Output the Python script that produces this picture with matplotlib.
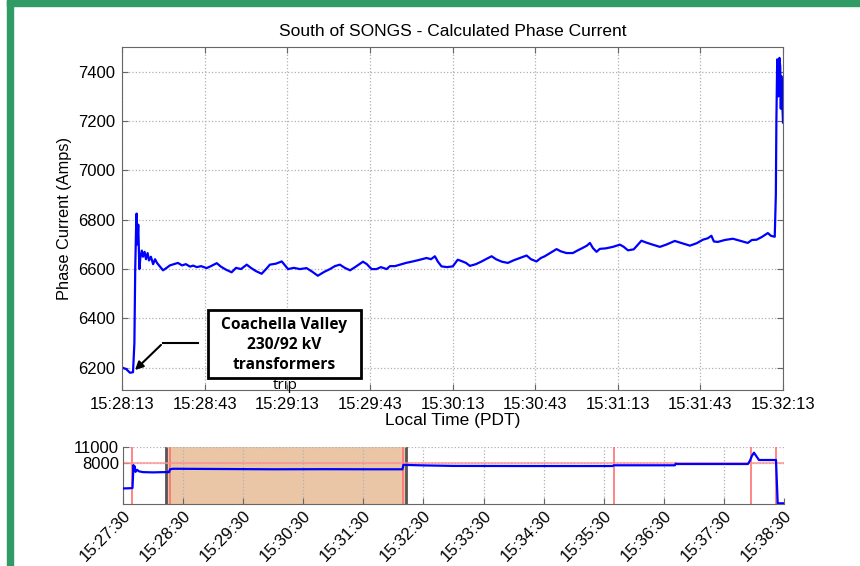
import matplotlib
matplotlib.use("Agg")
import matplotlib.pyplot as plt
import matplotlib.dates as mdates
from matplotlib.patches import Rectangle
from datetime import datetime, timedelta

plt.rcParams['font.family'] = ['Liberation Sans', 'DejaVu Sans']

# ---- main trace: seconds after 15:28:13, phase current (A)
main_start = datetime(2011, 9, 8, 15, 28, 13)
main_sec = [0.25, 1.5, 2.9, 4.0, 4.5, 4.8, 5.1, 5.3, 5.6, 5.9, 6.3, 6.7, 7.2, 7.6,
            8.2, 8.7, 9.3, 9.8, 10.5, 11.3, 12.0, 12.7, 13.8, 14.9, 16.2, 17.4,
            18.9, 20.3, 21.8, 23.2, 24.7, 25.8, 27.2, 28.7, 30.7, 32.3, 34.4,
            35.9, 37.7, 39.8, 41.4, 43.2, 45.3, 46.8, 48.6, 50.7, 52.3, 53.7,
            55.9, 58.0, 59.2, 60.3, 62.4, 64.6, 67.0, 69.0, 71.1, 73.3, 75.5,
            77.3, 79.1, 80.9, 82.8, 84.9, 87.5, 88.9, 90.6, 92.4, 94.0, 96.1,
            97.3, 99.1, 100.9, 103.1, 105.6, 108.2, 110.6, 112.2, 113.6, 114.7,
            116.0, 118.0, 120.1, 121.9, 123.4, 124.9, 126.3, 128.5, 130.6,
            132.1, 134.2, 135.8, 137.9, 140.1, 142.3, 144.5, 146.9, 148.5,
            150.5, 152.1, 153.5, 155.4, 157.8, 159.3, 161.4, 163.7, 165.5,
            167.3, 168.8, 169.9, 171.0, 172.3, 173.5, 175.7, 178.2, 180.8,
            182.2, 183.7, 185.8, 188.6, 190.2, 192.4, 195.3, 197.8, 200.7,
            203.3, 206.2, 208.7, 210.9, 212.7, 214.0, 214.9, 216.3, 218.9,
            221.8, 224.3, 227.2, 228.7, 230.4, 232.3, 234.5, 235.6, 237.0,
            237.4, 237.6, 237.9, 238.3, 238.7, 239.0, 239.2, 239.4, 239.8, 240.0]
main_amps = [6200, 6195, 6180, 6182, 6300, 6600, 6760, 6825, 6700, 6780, 6600, 6650,
             6675, 6650, 6670, 6640, 6665, 6635, 6650, 6620, 6640, 6625, 6610,
             6595, 6605, 6615, 6620, 6625, 6615, 6620, 6610, 6614, 6608, 6612,
             6604, 6612, 6624, 6610, 6598, 6587, 6605, 6600, 6618, 6605, 6592,
             6581, 6600, 6618, 6622, 6631, 6615, 6600, 6605, 6600, 6604, 6590,
             6573, 6588, 6600, 6612, 6618, 6605, 6595, 6610, 6630, 6620, 6600,
             6600, 6608, 6600, 6612, 6612, 6618, 6625, 6631, 6638, 6645, 6640,
             6652, 6630, 6611, 6608, 6611, 6638, 6632, 6625, 6613, 6620, 6631,
             6640, 6652, 6640, 6630, 6625, 6636, 6645, 6655, 6640, 6631, 6645,
             6652, 6665, 6681, 6672, 6665, 6665, 6676, 6686, 6695, 6706, 6685,
             6670, 6682, 6684, 6690, 6699, 6690, 6676, 6680, 6715, 6708, 6700,
             6690, 6700, 6714, 6705, 6695, 6705, 6719, 6725, 6735, 6712, 6710,
             6718, 6723, 6715, 6706, 6718, 6719, 6730, 6746, 6735, 6731,
             6900, 7200, 7450, 7300, 7456, 7420, 7250, 7382, 7250, 7194]

# ---- overview trace: seconds after 15:27:30
over_start = datetime(2011, 9, 8, 15, 27, 30)
over_sec = [0, 8, 9.5, 10, 10.5, 11, 11.5, 12.5, 14, 16, 20, 30, 40, 46, 47, 50,
            100, 150, 200, 250, 279, 280, 300, 330, 400, 489, 490, 551, 552, 553,
            560, 600, 624, 626, 628, 630, 635, 652, 653.7, 660]
over_amps = [3000, 3050, 3100, 5500, 7500, 6500, 7300, 6200, 6600, 6300, 6150, 6100,
             6150, 6150, 6700, 6800, 6750, 6700, 6720, 6700, 6700, 7550, 7450, 7350,
             7330, 7330, 7470, 7470, 7800, 7720, 7720, 7720, 7720, 8360, 9300, 9900,
             8490, 8490, 135, 135]
zoom_window = (43, 283)
event_lines = [9, 47, 280, 490, 627, 652]
limit_line = 7900

main_t = [main_start + timedelta(seconds=s) for s in main_sec]
over_t = [over_start + timedelta(seconds=s) for s in over_sec]

fig = plt.figure(figsize=(8.6, 5.66), dpi=100)

# green frame of the slide
green = '#319b66'
fig.patches.append(Rectangle((7 / 860, 0), 6 / 860, 1, transform=fig.transFigure,
                             color=green, zorder=0))
fig.patches.append(Rectangle((7 / 860, 1 - 6 / 566), 1, 6 / 566, transform=fig.transFigure,
                             color=green, zorder=0))

spine_c = '#666666'
grid_kw = dict(color='#b0b0b0', linestyle=':', linewidth=0.9)

ax = fig.add_axes([122 / 860, 1 - 390 / 566, 661 / 860, 343 / 566])
ax.plot(main_t, main_amps, color='#0000ff', lw=1.6)
ax.set_xlim(main_start, main_start + timedelta(seconds=240))
ax.set_ylim(6110, 7500)
ax.set_yticks([6200, 6400, 6600, 6800, 7000, 7200, 7400])
ax.xaxis.set_major_locator(mdates.SecondLocator(bysecond=[13, 43]))
ax.xaxis.set_major_formatter(mdates.DateFormatter('%H:%M:%S'))
ax.grid(True, **grid_kw)
ax.tick_params(direction='in', top=True, right=True, labelsize=12, color=spine_c,
               length=4, pad=5)
for sp in ax.spines.values():
    sp.set_color(spine_c)
ax.set_title('South of SONGS - Calculated Phase Current', fontsize=12.5, pad=8)
ax.set_ylabel('Phase Current (Amps)', fontsize=11.8, labelpad=4)
ax.set_xlabel('Local Time (PDT)', fontsize=12.5, labelpad=1)

# annotation box
ax.add_patch(Rectangle((0.1301, 0.035), 0.2315, 0.198, transform=ax.transAxes,
                       facecolor='white', edgecolor='black', lw=2, zorder=5))
ax.text(0.2458, 0.131, 'Coachella Valley\n230/92 kV\ntransformers', transform=ax.transAxes,
        ha='center', va='center', fontsize=11.2, fontweight='bold', family='Open Sans',
        linespacing=1.32, zorder=6)
ax.text(0.2466, 0.014, 'trip', transform=ax.transAxes, ha='center', va='center',
        fontsize=11, family='Open Sans', zorder=6, clip_on=False)
ax.plot([0.115, 0.062], [0.137, 0.137], transform=ax.transAxes, color='black', lw=1.5,
        zorder=6)
ax.annotate('', xy=(0.0166, 0.0525), xytext=(0.062, 0.137), xycoords='axes fraction',
            textcoords='axes fraction',
            arrowprops=dict(arrowstyle='-|>', color='black', lw=1.5, mutation_scale=12),
            zorder=6)

# overview axes
ax2 = fig.add_axes([123 / 860, 1 - 504 / 566, 661 / 860, 57 / 566])
ax2.axvspan(over_start + timedelta(seconds=zoom_window[0]),
            over_start + timedelta(seconds=zoom_window[1]), color='#ebc6a6', zorder=0)
for s in zoom_window:
    ax2.axvline(over_start + timedelta(seconds=s), color='#555555', lw=2, zorder=1)
for s in event_lines:
    ax2.axvline(over_start + timedelta(seconds=s), color='#ff7070', lw=1.4, alpha=0.85,
                zorder=2)
ax2.axhline(limit_line, color='#ff9090', lw=1.5, alpha=0.7, zorder=2)
ax2.plot(over_t, over_amps, color='#0000ff', lw=1.6, zorder=3)
ax2.set_xlim(over_start, over_start + timedelta(seconds=660))
ax2.set_ylim(0, 11000)
ax2.set_yticks([8000, 11000])
ax2.xaxis.set_major_locator(mdates.SecondLocator(bysecond=[30]))
ax2.xaxis.set_major_formatter(mdates.DateFormatter('%H:%M:%S'))
ax2.grid(True, **grid_kw)
ax2.tick_params(direction='in', labelsize=12, color=spine_c, length=4, pad=3)
for lab in ax2.get_xticklabels():
    lab.set_rotation(45)
    lab.set_ha('right')
    lab.set_rotation_mode('anchor')
ax2.spines['top'].set_visible(False)
ax2.spines['right'].set_visible(False)
ax2.spines['left'].set_color(spine_c)
ax2.spines['bottom'].set_color(spine_c)

fig.savefig('out.png', dpi=100)
